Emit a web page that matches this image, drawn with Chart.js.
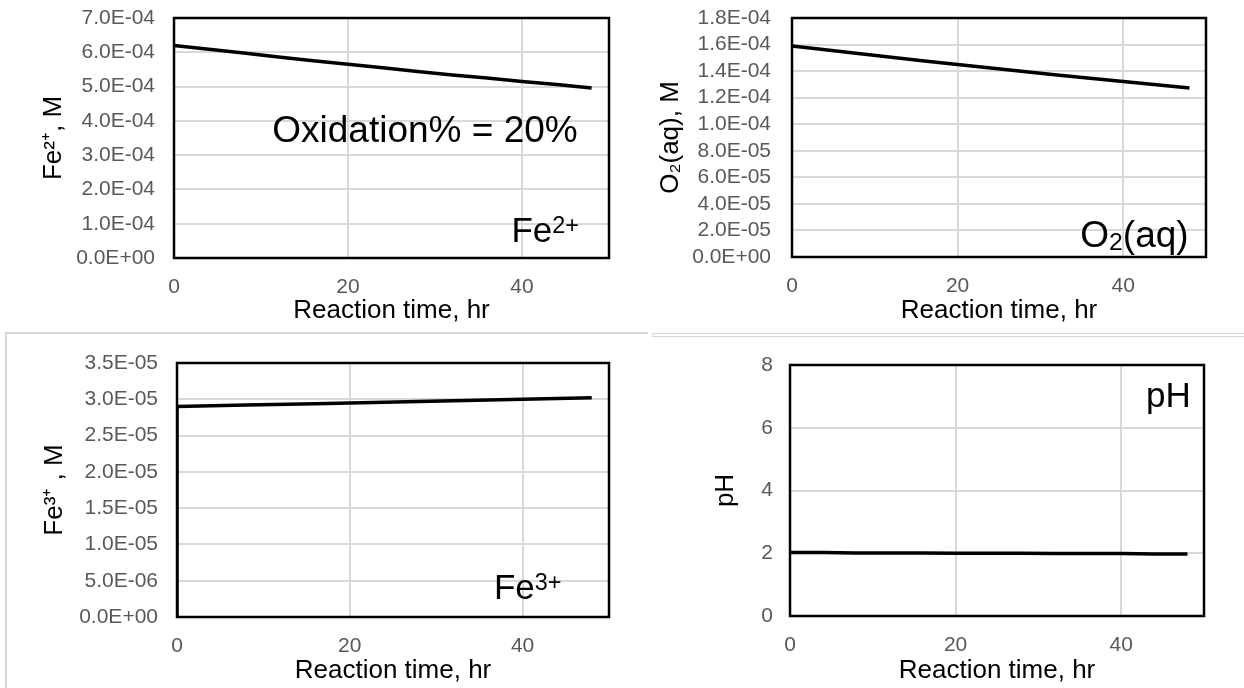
<!DOCTYPE html>
<html>
<head>
<meta charset="utf-8">
<script src="https://cdn.jsdelivr.net/npm/chart.js@4/dist/chart.umd.min.js"></script>
<style>
html,body{margin:0;padding:0;background:#fff;}
#wrap{position:relative;width:1244px;height:688px;overflow:hidden;background:#fff;}
canvas{position:absolute;}
.frame{position:absolute;box-sizing:border-box;}
</style>
</head>
<body>
<div id="wrap">
  <div class="frame" style="left:5px;top:332px;width:643px;height:400px;border-top:2px solid #d6d6d6;border-left:2px solid #d6d6d6;"></div>
  <div class="frame" style="left:652px;top:333px;width:600px;height:4px;border:1px solid #d6d6d6;"></div>
  <canvas id="c1" width="622" height="333" style="left:0;top:0"></canvas>
  <canvas id="c2" width="622" height="333" style="left:622px;top:0"></canvas>
  <canvas id="c3" width="622" height="355" style="left:0;top:333px"></canvas>
  <canvas id="c4" width="622" height="355" style="left:622px;top:333px"></canvas>
</div>
<script>
// ---- data ----
const timeHr   = [0, 4, 8, 12, 16, 20, 24, 28, 32, 36, 40, 44, 48];
const fe2Molar = [6.20e-4, 6.09e-4, 5.98e-4, 5.86e-4, 5.75e-4, 5.65e-4, 5.55e-4, 5.44e-4, 5.34e-4, 5.25e-4, 5.15e-4, 5.06e-4, 4.96e-4];
const o2Molar  = [1.590e-4, 1.561e-4, 1.532e-4, 1.504e-4, 1.476e-4, 1.449e-4, 1.423e-4, 1.397e-4, 1.371e-4, 1.346e-4, 1.321e-4, 1.297e-4, 1.272e-4];
const fe3Time  = [0, 0, 8, 16, 24, 32, 40, 48];
const fe3Molar = [0, 2.90e-5, 2.92e-5, 2.94e-5, 2.96e-5, 2.98e-5, 3.00e-5, 3.02e-5];
const pHValues = [2.02, 2.02, 2.01, 2.01, 2.01, 2.00, 2.00, 2.00, 1.99, 1.99, 1.99, 1.98, 1.98];

// ---- tick values ----
const xTickValues   = [0, 20, 40];
const fe2TickValues = [0, 1e-4, 2e-4, 3e-4, 4e-4, 5e-4, 6e-4, 7e-4];
const o2TickValues  = [0, 2e-5, 4e-5, 6e-5, 8e-5, 1e-4, 1.2e-4, 1.4e-4, 1.6e-4, 1.8e-4];
const fe3TickValues = [0, 5e-6, 1e-5, 1.5e-5, 2e-5, 2.5e-5, 3e-5, 3.5e-5];
const pHTickValues  = [0, 2, 4, 6, 8];

// ---- text ----
const xAxisTitle = 'Reaction time, hr';
const fe2AxisTitle = 'Fe²⁺, M';
const o2AxisTitle = 'O₂(aq), M';
const fe3AxisTitle = 'Fe³⁺ , M';
const pHAxisTitle = 'pH';

const FONT = '"Liberation Sans", Arial, sans-serif';

function sci(v) {
  if (Math.abs(v) < 1e-20) return '0.0E+00';
  let e = Math.floor(Math.log10(Math.abs(v)) + 1e-9);
  let m = v / Math.pow(10, e);
  if (Math.round(m * 10) / 10 >= 10) { m /= 10; e++; }
  return m.toFixed(1) + 'E' + (e < 0 ? '-' : '+') + String(Math.abs(e)).padStart(2, '0');
}

function pts(xs, ys) { return xs.map((x, i) => ({x: x, y: ys[i]})); }

const boxPlugin = {
  id: 'plotBox',
  afterDraw(chart) {
    const a = chart.chartArea, ctx = chart.ctx;
    ctx.save();
    ctx.strokeStyle = '#000';
    ctx.lineWidth = 2.5;
    ctx.strokeRect(a.left, a.top, a.right - a.left, a.bottom - a.top);
    ctx.restore();
  }
};

function richTextPlugin(items) {
  return {
    id: 'richText',
    afterDraw(chart) {
      const ctx = chart.ctx, xs = chart.scales.x, ys = chart.scales.y;
      items.forEach(it => {
        const size = it.size;
        const parts = it.parts.map(p => {
          const s = p.mode ? size * 0.67 : size;
          ctx.font = s + 'px ' + FONT;
          return {text: p.text, mode: p.mode, s: s, w: ctx.measureText(p.text).width};
        });
        const total = parts.reduce((a, p) => a + p.w, 0);
        let x = xs.getPixelForValue(it.x) - total;
        const base = ys.getPixelForValue(it.y);
        ctx.save();
        ctx.fillStyle = '#000';
        ctx.textBaseline = 'alphabetic';
        ctx.textAlign = 'left';
        parts.forEach(p => {
          ctx.font = p.s + 'px ' + FONT;
          const dy = p.mode === 'sup' ? -0.27 * size : (p.mode === 'sub' ? 0.08 * size : 0);
          ctx.fillText(p.text, x, base + dy);
          x += p.w;
        });
        ctx.restore();
      });
    }
  };
}

function makeChart(id, g) {
  const gridOpts = {color: '#d9d9d9', lineWidth: 2, drawTicks: false};
  new Chart(document.getElementById(id), {
    type: 'scatter',
    data: {
      datasets: [{
        data: g.data,
        showLine: true,
        borderColor: '#000',
        borderWidth: 3.5,
        pointRadius: 0,
        tension: 0,
        fill: false
      }]
    },
    options: {
      responsive: false,
      animation: false,
      events: [],
      layout: {padding: {left: 0, top: g.padTop, right: g.padRight, bottom: 0}},
      plugins: {legend: {display: false}, tooltip: {enabled: false}},
      scales: {
        x: {
          type: 'linear', min: 0, max: 50,
          afterBuildTicks: s => { s.ticks = xTickValues.map(v => ({value: v})); },
          afterFit: s => { s.height = g.xHeight; s.paddingLeft = 0; s.paddingRight = 0; },
          grid: gridOpts,
          border: {display: false},
          ticks: {color: '#595959', font: {family: FONT, size: 21}, padding: 17, maxRotation: 0, autoSkip: false, callback: v => String(v)},
          title: {display: true, text: xAxisTitle, color: '#000', font: {family: FONT, size: 26}, padding: {top: 0, bottom: g.xTitlePad}}
        },
        y: {
          type: 'linear', min: g.yMin, max: g.yMax,
          afterBuildTicks: s => { s.ticks = g.yTicks.map(v => ({value: v})); },
          afterFit: s => { s.width = g.yWidth; s.paddingTop = 0; s.paddingBottom = 0; },
          grid: gridOpts,
          border: {display: false},
          ticks: {color: '#595959', font: {family: FONT, size: 21}, padding: g.yTickPad, autoSkip: false, callback: g.fmt},
          title: {display: true, text: g.yTitle, color: '#000', font: {family: FONT, size: 26}, padding: {top: g.yTitlePad, bottom: 0}}
        }
      }
    },
    plugins: [boxPlugin, richTextPlugin(g.labels)]
  });
}

makeChart('c1', {
  data: pts(timeHr, fe2Molar), yMin: 0, yMax: 7e-4, yTicks: fe2TickValues, fmt: v => sci(v),
  yTitle: fe2AxisTitle, padTop: 18, padRight: 13, yWidth: 174, xHeight: 75,
  yTickPad: 19, yTitlePad: 38, xTitlePad: 7,
  labels: [
    {x: 46.4, y: 3.39e-4, size: 37, parts: [{text: 'Oxidation% = 20%'}]},
    {x: 46.55, y: 0.467e-4, size: 35, parts: [{text: 'Fe'}, {text: '2+', mode: 'sup'}]}
  ]
});

makeChart('c2', {
  data: pts(timeHr, o2Molar), yMin: 0, yMax: 1.8e-4, yTicks: o2TickValues, fmt: v => sci(v),
  yTitle: o2AxisTitle, padTop: 18, padRight: 38, yWidth: 170, xHeight: 76,
  yTickPad: 21, yTitlePad: 33, xTitlePad: 7,
  labels: [
    {x: 47.9, y: 0.078e-4, size: 37, parts: [{text: 'O'}, {text: '2', mode: 'sub'}, {text: '(aq)'}]}
  ]
});

makeChart('c3', {
  data: pts(fe3Time, fe3Molar), yMin: 0, yMax: 3.5e-5, yTicks: fe3TickValues, fmt: v => sci(v),
  yTitle: fe3AxisTitle, padTop: 30, padRight: 13, yWidth: 177, xHeight: 71,
  yTickPad: 19, yTitlePad: 39, xTitlePad: 2,
  labels: [
    {x: 44.5, y: 0.248e-5, size: 35, parts: [{text: 'Fe'}, {text: '3+', mode: 'sup'}]}
  ]
});

makeChart('c4', {
  data: pts(timeHr, pHValues), yMin: 0, yMax: 8, yTicks: pHTickValues, fmt: v => String(v),
  yTitle: pHAxisTitle, padTop: 32, padRight: 40, yWidth: 168, xHeight: 72,
  yTickPad: 17, yTitlePad: 88, xTitlePad: 2,
  labels: [
    {x: 48.4, y: 6.66, size: 35, parts: [{text: 'pH'}]}
  ]
});
</script>
</body>
</html>
